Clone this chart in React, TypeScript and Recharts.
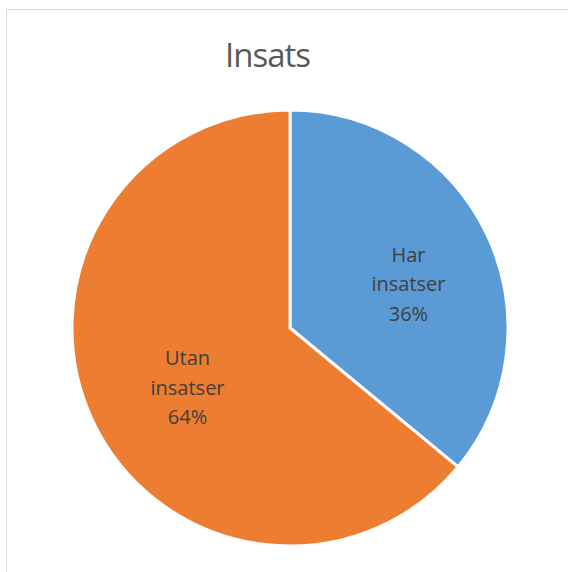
import React from "react";
import { PieChart, Pie, Cell } from "recharts";

const categories = ["Har insatser", "Utan insatser"];
const shares = [36, 64];
const colors = ["#5B9BD5", "#ED7D31"];
const title = "Insats";

const data = categories.map((name, i) => ({ name, value: shares[i] }));

const RAD = Math.PI / 180;

function SliceLabel(props: any) {
  const { cx, cy, midAngle, outerRadius, percent, name } = props;
  const r = outerRadius * 0.56;
  const x = cx + r * Math.cos(-midAngle * RAD) + 8;
  const y = cy + r * Math.sin(-midAngle * RAD) + 15;
  const lines = [...String(name).split(" "), `${Math.round(percent * 100)}%`];
  const lh = 29.5;
  const start = y - ((lines.length - 1) / 2) * lh;
  return (
    <text
      textAnchor="middle"
      fill="#404040"
      fontSize={20}
      fontFamily="'Open Sans', sans-serif"
    >
      {lines.map((t, i) => (
        <tspan key={i} x={x} y={start + i * lh}>
          {t}
        </tspan>
      ))}
    </text>
  );
}

export default function App() {
  return (
    <div
      style={{
        position: "fixed",
        left: 0,
        top: 0,
        width: 568,
        height: 572,
        overflow: "hidden",
        background: "#fff",
      }}
    >
      <div
        style={{
          position: "absolute",
          left: 6,
          top: 9,
          width: 600,
          height: 600,
          border: "1px solid #d9d9d9",
        }}
      />
      <div
        style={{
          position: "absolute",
          left: 0,
          width: 535,
          top: 38,
          textAlign: "center",
          fontFamily: "'Open Sans', sans-serif",
          fontSize: 33,
          letterSpacing: -1,
          color: "#595959",
          lineHeight: 1,
        }}
      >
        {title}
      </div>
      <div style={{ position: "absolute", left: 0, top: 0 }}>
        <PieChart
          width={568}
          height={572}
          margin={{ top: 0, right: 0, bottom: 0, left: 0 }}
        >
          <Pie
            data={data}
            dataKey="value"
            nameKey="name"
            cx={290}
            cy={328}
            outerRadius={218}
            startAngle={90}
            endAngle={-270}
            stroke="#fff"
            strokeWidth={3}
            label={SliceLabel}
            labelLine={false}
            isAnimationActive={false}
          >
            {data.map((d, i) => (
              <Cell key={d.name} fill={colors[i]} />
            ))}
          </Pie>
        </PieChart>
      </div>
    </div>
  );
}
